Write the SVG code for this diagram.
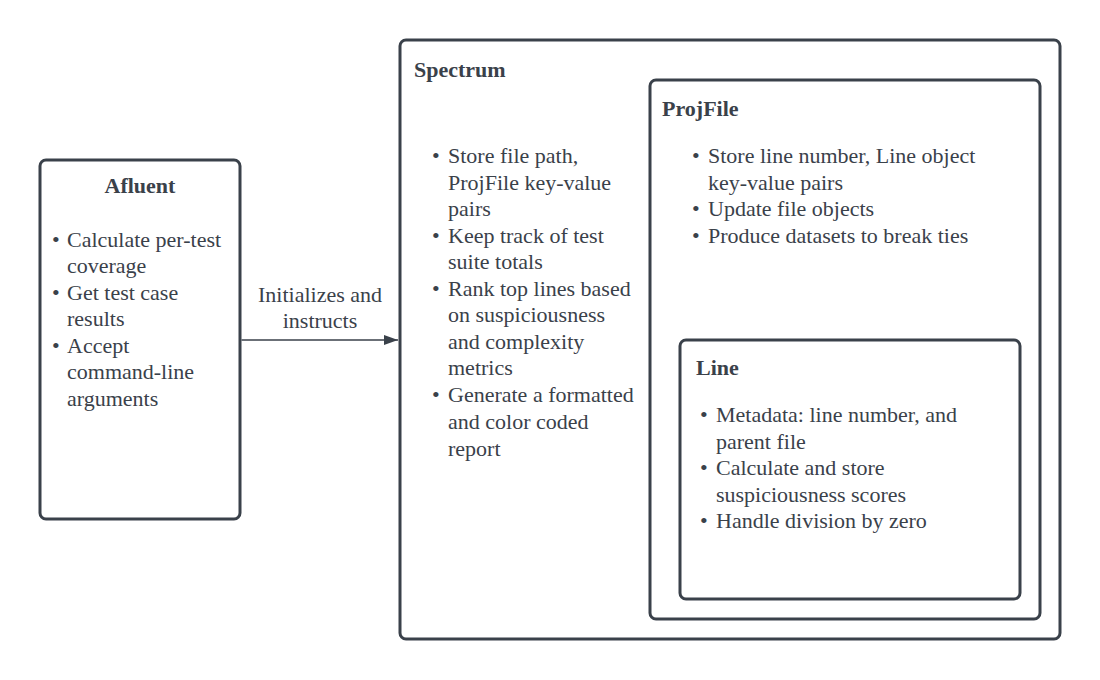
<svg xmlns="http://www.w3.org/2000/svg" width="1100" height="680" viewBox="0 0 1100 680">
<defs>
<style>
.box{fill:#ffffff;stroke:#3a414a;stroke-width:3}
.t{font-family:"Liberation Serif","DejaVu Serif",serif;font-size:22px;fill:#3a414a}
.h{font-family:"Liberation Serif","DejaVu Serif",serif;font-size:22px;font-weight:bold;fill:#3a414a}
.c{stroke:#3a414a;stroke-width:1.5;fill:none}
</style>
<marker id="ah" markerWidth="14" markerHeight="10" refX="14" refY="5" orient="auto" markerUnits="userSpaceOnUse">
<path d="M0,0 L14,5 L0,10 Z" fill="#3a414a"/>
</marker>
</defs>
<rect width="1100" height="680" fill="#ffffff"/>
<g id="afluent">
<rect class="box" x="40" y="160" width="200" height="359" rx="6"/>
<text class="h" x="140" y="193" text-anchor="middle">Afluent</text>
<text class="t"><tspan x="52" y="247">•</tspan><tspan x="67" y="247">Calculate per-test</tspan><tspan x="67" y="273">coverage</tspan><tspan x="52" y="300">•</tspan><tspan x="67" y="300">Get test case</tspan><tspan x="67" y="326">results</tspan><tspan x="52" y="353">•</tspan><tspan x="67" y="353">Accept</tspan><tspan x="67" y="379">command-line</tspan><tspan x="67" y="406">arguments</tspan></text>
</g>
<g id="spectrum">
<rect class="box" x="400" y="40" width="660" height="599" rx="6"/>
<text class="h" x="414" y="77">Spectrum</text>
<text class="t"><tspan x="432" y="163">•</tspan><tspan x="448" y="163">Store file path,</tspan><tspan x="448" y="190">ProjFile key-value</tspan><tspan x="448" y="216">pairs</tspan><tspan x="432" y="243">•</tspan><tspan x="448" y="243">Keep track of test</tspan><tspan x="448" y="269">suite totals</tspan><tspan x="432" y="296">•</tspan><tspan x="448" y="296">Rank top lines based</tspan><tspan x="448" y="322">on suspiciousness</tspan><tspan x="448" y="349">and complexity</tspan><tspan x="448" y="375">metrics</tspan><tspan x="432" y="402">•</tspan><tspan x="448" y="402">Generate a formatted</tspan><tspan x="448" y="429">and color coded</tspan><tspan x="448" y="456">report</tspan></text>
</g>
<g id="projfile">
<rect class="box" x="650" y="80" width="390" height="539" rx="6"/>
<text class="h" x="662" y="116">ProjFile</text>
<text class="t"><tspan x="692" y="163">•</tspan><tspan x="708" y="163">Store line number, Line object</tspan><tspan x="708" y="190">key-value pairs</tspan><tspan x="692" y="216">•</tspan><tspan x="708" y="216">Update file objects</tspan><tspan x="692" y="243">•</tspan><tspan x="708" y="243">Produce datasets to break ties</tspan></text>
</g>
<g id="line">
<rect class="box" x="680" y="340" width="340" height="259" rx="6"/>
<text class="h" x="696" y="375">Line</text>
<text class="t"><tspan x="700" y="422">•</tspan><tspan x="716" y="422">Metadata: line number, and</tspan><tspan x="716" y="449">parent file</tspan><tspan x="700" y="475">•</tspan><tspan x="716" y="475">Calculate and store</tspan><tspan x="716" y="502">suspiciousness scores</tspan><tspan x="700" y="528">•</tspan><tspan x="716" y="528">Handle division by zero</tspan></text>
</g>
<g id="connectors">
<line class="c" x1="241.5" y1="340" x2="398" y2="340" marker-end="url(#ah)"/>
<text class="t" x="320" y="302" text-anchor="middle">Initializes and</text>
<text class="t" x="320" y="328" text-anchor="middle">instructs</text>
</g>
</svg>
